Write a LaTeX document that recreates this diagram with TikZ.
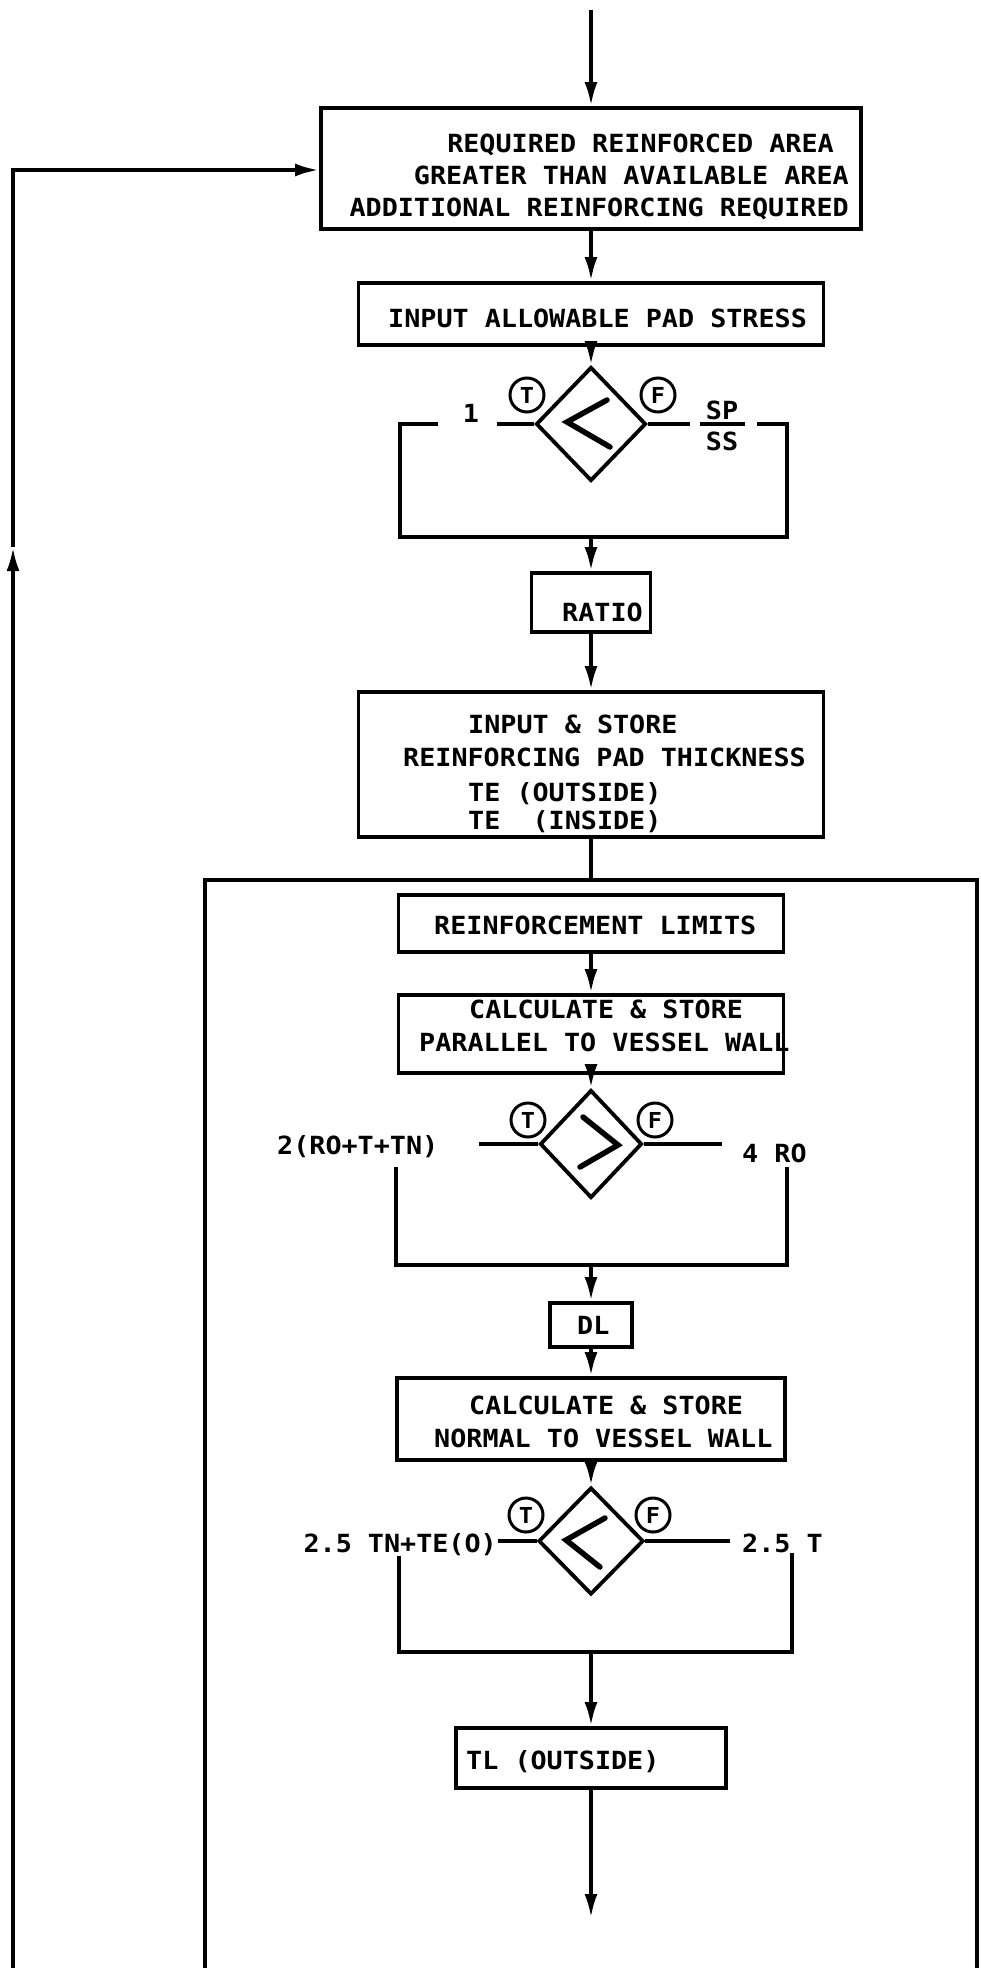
\documentclass[tikz,border=0pt]{standalone}
\usepackage{fontspec}
\newfontfamily\tmono[FakeStretch=1.07]{DejaVu Sans Mono}
\usetikzlibrary{arrows.meta,shapes.geometric}
\begin{document}
\begin{tikzpicture}[x=1pt,y=-1pt,
  ln/.style={line width=3.8pt},
  arr/.style={ln,-{Latex[length=24pt,width=13pt]}},
  box/.style={draw,ln,rectangle,inner sep=0pt},
  txt/.style={font=\tmono\bfseries\fontsize{25}{30}\selectfont,inner sep=0pt},
  dec/.style={diamond,draw,ln,inner sep=0pt},
  tf/.style={circle,draw,line width=3pt,minimum size=34pt,inner sep=0pt,font=\tmono\bfseries\fontsize{22}{24}\selectfont},
  sym/.style={line width=5.5pt,line cap=round,line join=miter}]
\useasboundingbox[fill=white] (0,0) rectangle (980,1968);

% top box
\coordinate (top) at (591,10);
\node[box,minimum width=540pt,minimum height=121pt] (b1) at (591,168.5) {};
\node[txt,anchor=base east] (t1a) at (834,152) {REQUIRED REINFORCED AREA};
\node[txt,anchor=base east] (t1b) at (849,184) {GREATER THAN AVAILABLE AREA};
\node[txt,anchor=base east] (t1c) at (849,216) {ADDITIONAL REINFORCING REQUIRED};
\draw[arr] (top) -- (b1.north);

% loop
\coordinate (lb) at (13,1968);
\coordinate (lm) at (13,547);
\coordinate (lt) at (13,170);
\draw[arr] (lb) -- (lm);
\draw[arr] (lm) -- (lt) -- (lt -| b1.west);

% pad stress
\node[box,minimum width=465pt,minimum height=62pt] (b2) at (591,314) {};
\node[txt,anchor=base west] (t2) at (388,327) {INPUT ALLOWABLE PAD STRESS};
\draw[arr] (b1.south) -- (b2.north);

% decision 1
\node[dec,minimum width=110pt,minimum height=114pt] (d1) at (591,424) {};
\draw[arr] (b2.south) -- (d1.north);
\draw[sym] ([shift={(16,-24)}]d1.center) -- ([shift={(-24,-2)}]d1.center) -- ([shift={(19,23)}]d1.center);
\node[tf] (tc1) at (527,395) {T};
\node[tf] (fc1) at (658,395) {F};
\coordinate (l1a) at (497,424);
\coordinate (l1b) at (438,424);
\coordinate (l1c) at (400,424);
\coordinate (l1d) at (400,537);
\coordinate (j1) at (591,537);
\coordinate (r1d) at (787,537);
\coordinate (r1c) at (787,424);
\coordinate (r1b) at (757,424);
\coordinate (r1a) at (690,424);
\coordinate (fb1) at (700,424);
\coordinate (fb2) at (745,424);
\draw[ln] (d1.west) -- (l1a);
\node[txt,anchor=base] (one) at (471,422) {1};
\draw[ln] (l1b) -- (l1c) -- (l1d) -- (r1d) -- (r1c) -- (r1b);
\draw[ln] (d1.east) -- (r1a);
\draw[ln] (fb1) -- (fb2);
\node[txt,anchor=base] (sp) at (722,419) {SP};
\node[txt,anchor=base] (ss) at (722,450) {SS};

% ratio
\node[box,minimum width=119pt,minimum height=59pt] (ratio) at (591,602.5) {};
\node[txt,anchor=base west] (tratio) at (562,621) {RATIO};
\draw[arr] (j1) -- (ratio.north);

% input & store
\node[box,minimum width=465pt,minimum height=145pt] (b3) at (591,764.5) {};
\node[txt,anchor=base west] (t3a) at (468,733) {INPUT \& STORE};
\node[txt,anchor=base west] (t3b) at (403,766) {REINFORCING PAD THICKNESS};
\node[txt,anchor=base west] (t3c) at (468,801) {TE (OUTSIDE)};
\node[txt,anchor=base west] (t3d) at (468,829) {TE\ \ (INSIDE)};
\draw[arr] (ratio.south) -- (b3.north);

% big frame
\coordinate (bt) at (591,880);
\coordinate (bbl) at (205,1968);
\coordinate (btl) at (205,880);
\coordinate (btr) at (977,880);
\coordinate (bbr) at (977,1968);
\draw[ln] (b3.south) -- (bt);
\draw[ln] (bbl) -- (btl) -- (btr) -- (bbr);

% reinforcement limits
\node[box,minimum width=385pt,minimum height=57pt] (rl) at (591,923.5) {};
\node[txt,anchor=base west] (trl) at (434,934) {REINFORCEMENT LIMITS};
\node[box,minimum width=385pt,minimum height=78pt] (c1) at (591,1034) {};
\node[txt,anchor=base west] (tc1a) at (469,1018) {CALCULATE \& STORE};
\node[txt,anchor=base west] (tc1b) at (419,1051) {PARALLEL TO VESSEL WALL};
\draw[arr] (rl.south) -- (c1.north);

% decision 2
\node[dec,minimum width=102pt,minimum height=108pt] (d2) at (591,1144) {};
\draw[arr] (c1.south) -- (d2.north);
\draw[sym] ([shift={(-8,-27)}]d2.center) -- ([shift={(27,1)}]d2.center) -- ([shift={(-11,23)}]d2.center);
\node[tf] (tc2) at (528,1120) {T};
\node[tf] (fc2) at (655,1120) {F};
\coordinate (l2a) at (479,1144);
\coordinate (l2c) at (396,1167);
\coordinate (l2d) at (396,1265);
\coordinate (j2) at (591,1265);
\coordinate (r2d) at (787,1265);
\coordinate (r2c) at (787,1167);
\coordinate (r2a) at (722,1144);
\draw[ln] (d2.west) -- (l2a);
\draw[ln] (d2.east) -- (r2a);
\node[txt,anchor=base west] (lab2l) at (277,1154) {2(RO+T+TN)};
\node[txt,anchor=base west] (lab2r) at (742,1162) {4 RO};
\draw[ln] (l2c) -- (l2d) -- (r2d) -- (r2c);

% DL
\node[box,minimum width=82pt,minimum height=44pt] (dl) at (591,1325) {};
\node[txt,anchor=base west] (tdl) at (577,1334) {DL};
\draw[arr] (j2) -- (dl.north);

% normal
\node[box,minimum width=388pt,minimum height=82pt] (c2) at (591,1419) {};
\node[txt,anchor=base west] (tc2a) at (469,1414) {CALCULATE \& STORE};
\node[txt,anchor=base west] (tc2b) at (434,1447) {NORMAL TO VESSEL WALL};
\draw[arr] (dl.south) -- (c2.north);

% decision 3
\node[dec,minimum width=105pt,minimum height=107pt] (d3) at (591,1541) {};
\draw[arr] (c2.south) -- (d3.north);
\draw[sym] ([shift={(14,-23)}]d3.center) -- ([shift={(-25,-1)}]d3.center) -- ([shift={(9,26)}]d3.center);
\node[tf] (tc3) at (526,1515) {T};
\node[tf] (fc3) at (653,1515) {F};
\coordinate (l3a) at (498,1541);
\coordinate (l3c) at (399,1556);
\coordinate (l3d) at (399,1652);
\coordinate (j3) at (591,1652);
\coordinate (r3d) at (792,1652);
\coordinate (r3c) at (792,1553);
\coordinate (r3a) at (730,1541);
\draw[ln] (d3.west) -- (l3a);
\draw[ln] (d3.east) -- (r3a);
\node[txt,anchor=base east] (lab3l) at (497,1552) {2.5 TN+TE(O)};
\node[txt,anchor=base west] (lab3r) at (742,1552) {2.5 T};
\draw[ln] (l3c) -- (l3d) -- (r3d) -- (r3c);

% TL
\node[box,minimum width=270pt,minimum height=60pt] (tl) at (591,1758) {};
\node[txt,anchor=base west] (ttl) at (466,1769) {TL (OUTSIDE)};
\draw[arr] (j3) -- (tl.north);
\coordinate (endp) at (591,1918);
\draw[arr] (tl.south) -- (endp);
\end{tikzpicture}
\end{document}
